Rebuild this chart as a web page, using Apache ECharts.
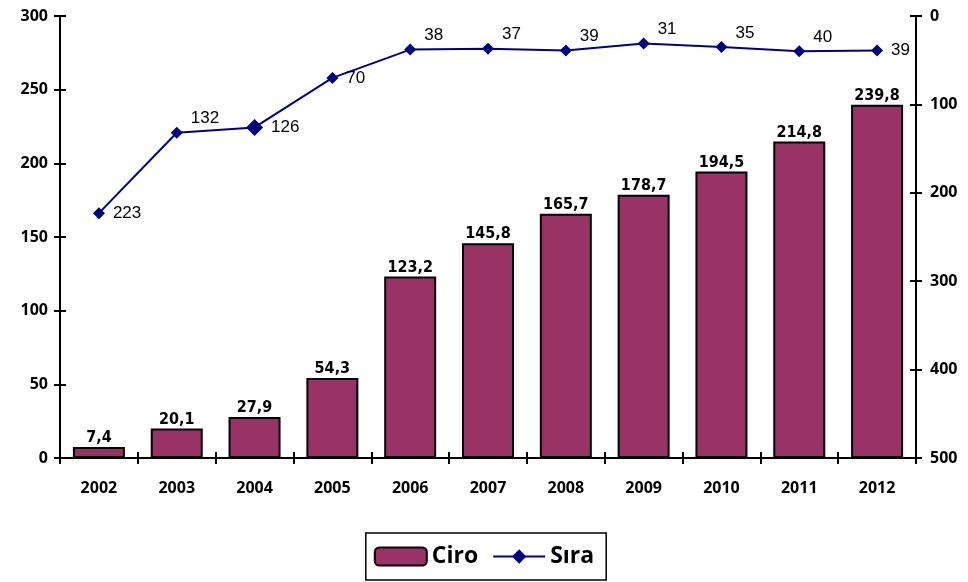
<!DOCTYPE html>
<html>
<head>
<meta charset="utf-8">
<script src="https://cdn.jsdelivr.net/npm/echarts@6/dist/echarts.min.js"></script>
<style>
  html, body { margin: 0; padding: 0; background: #fff; }
  #chart { width: 968px; height: 582px; }
</style>
</head>
<body>
<div id="chart"></div>
<script>
var years = ['2002', '2003', '2004', '2005', '2006', '2007', '2008', '2009', '2010', '2011', '2012'];
var ciro = [7.4, 20.1, 27.9, 54.3, 123.2, 145.8, 165.7, 178.7, 194.5, 214.8, 239.8];
var sira = [223, 132, 126, 70, 38, 37, 39, 31, 35, 40, 39];

// labels that sit up-right of the point rather than beside it
var raised = [1, 4, 5, 6, 7, 8, 9];

var chart = echarts.init(document.getElementById('chart'));

var axisFont = { fontFamily: 'Open Sans', fontWeight: 'bold', fontSize: 16, color: '#000' };
var axisLine = { show: true, onZero: false, lineStyle: { color: '#000', width: 2 } };
var tickOut = { show: true, length: 6, lineStyle: { color: '#000', width: 2 } };
// second set of axes only draws the inner half of the crossing ticks
var tickIn = { show: true, inside: true, length: 6, lineStyle: { color: '#000', width: 2 } };

var lineData = sira.map(function (v, i) {
  var d = { value: v };
  if (i === 2) d.symbolSize = 17;
  if (raised.indexOf(i) >= 0) d.label = { offset: [0, -14] };
  return d;
});

var option = {
  animation: false,
  grid: { left: 60, right: 52, top: 16, bottom: 124 },
  legend: {
    bottom: 2, left: 'center', itemWidth: 52, itemHeight: 18, itemGap: 14,
    padding: [12, 12, 12, 8], borderColor: '#000', borderWidth: 1.5,
    textStyle: { fontFamily: 'Open Sans', fontWeight: 'bold', fontSize: 23, color: '#000' },
    data: ['Ciro', 'Sıra']
  },
  xAxis: [
    { type: 'category', data: years, position: 'bottom', axisLine: axisLine, axisTick: tickOut,
      axisLabel: Object.assign({ margin: 22 }, axisFont) },
    { type: 'category', data: years, position: 'bottom', axisLine: { show: false, onZero: false },
      axisTick: tickIn, axisLabel: { show: false } }
  ],
  yAxis: [
    { type: 'value', min: 0, max: 300, interval: 50, position: 'left', axisLine: axisLine, axisTick: tickOut,
      axisLabel: Object.assign({ margin: 12 }, axisFont), splitLine: { show: false } },
    { type: 'value', min: 0, max: 500, interval: 100, inverse: true, position: 'right', axisLine: axisLine,
      axisTick: tickOut, axisLabel: Object.assign({ margin: 14 }, axisFont), splitLine: { show: false } },
    { type: 'value', min: 0, max: 300, interval: 50, position: 'left', axisLine: { show: false, onZero: false },
      axisTick: tickIn, axisLabel: { show: false }, splitLine: { show: false } },
    { type: 'value', min: 0, max: 500, interval: 100, inverse: true, position: 'right',
      axisLine: { show: false, onZero: false }, axisTick: tickIn, axisLabel: { show: false }, splitLine: { show: false } }
  ],
  series: [
    { name: 'Ciro', type: 'bar', data: ciro, barWidth: 52,
      itemStyle: { color: '#993366', borderColor: '#000', borderWidth: 2 },
      label: { show: true, position: 'top', distance: 1,
        formatter: function (p) { return String(p.value).replace('.', ','); },
        fontFamily: "'Liberation Sans Narrow', 'DejaVu Sans Condensed', 'Liberation Sans', sans-serif",
        fontWeight: 'bold', fontSize: 16, color: '#000' } },
    { name: 'Sıra', type: 'line', yAxisIndex: 1, data: lineData, symbol: 'diamond', symbolSize: 12,
      lineStyle: { color: '#000080', width: 2 }, itemStyle: { color: '#000080' },
      label: { show: true, position: 'right', distance: 8, fontFamily: "'Liberation Sans', sans-serif",
        fontSize: 17, color: '#000' } }
  ]
};

chart.setOption(option);
</script>
</body>
</html>
